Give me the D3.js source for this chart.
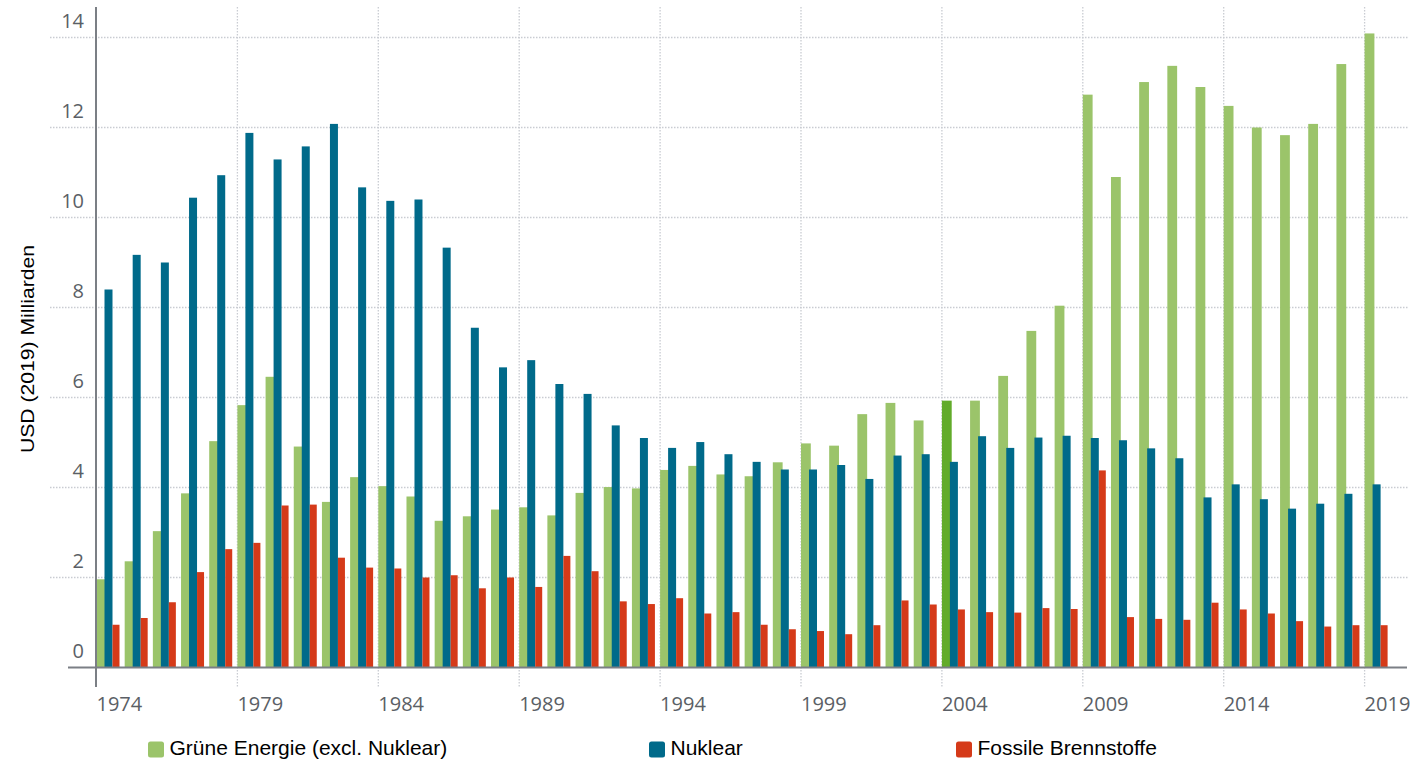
<!DOCTYPE html>
<html>
<head>
<meta charset="utf-8">
<script src="https://cdn.jsdelivr.net/npm/d3@7"></script>
<style>
  body { margin: 0; background: #fff; }
  svg { display: block; }
</style>
</head>
<body>
<svg id="chart" width="1413" height="759"></svg>
<script>
// chart data
var years = [1974, 1975, 1976, 1977, 1978, 1979, 1980, 1981, 1982, 1983,
             1984, 1985, 1986, 1987, 1988, 1989, 1990, 1991, 1992, 1993,
             1994, 1995, 1996, 1997, 1998, 1999, 2000, 2001, 2002, 2003,
             2004, 2005, 2006, 2007, 2008, 2009, 2010, 2011, 2012, 2013,
             2014, 2015, 2016, 2017, 2018, 2019];

var green = [1.96, 2.36, 3.03, 3.87, 5.03, 5.83, 6.46, 4.91, 3.68, 4.23,
             4.03, 3.80, 3.26, 3.36, 3.51, 3.56, 3.38, 3.88, 4.01, 3.98,
             4.39, 4.48, 4.29, 4.25, 4.56, 4.98, 4.93, 5.63, 5.88, 5.49,
             5.93, 5.93, 6.48, 7.48, 8.04, 12.73, 10.90, 13.01, 13.37, 12.90,
             12.48, 12.00, 11.83, 12.08, 13.41, 14.09];

var nuclear = [8.40, 9.17, 9.00, 10.44, 10.94, 11.88, 11.29, 11.58, 12.08, 10.67,
               10.37, 10.40, 9.33, 7.55, 6.67, 6.83, 6.30, 6.08, 5.38, 5.10,
               4.88, 5.01, 4.74, 4.57, 4.40, 4.40, 4.50, 4.19, 4.71, 4.74,
               4.57, 5.14, 4.88, 5.11, 5.15, 5.10, 5.05, 4.87, 4.65, 3.78,
               4.07, 3.74, 3.53, 3.64, 3.86, 4.07];

var fossil = [0.95, 1.10, 1.45, 2.12, 2.63, 2.77, 3.60, 3.62, 2.44, 2.22,
              2.20, 2.00, 2.05, 1.76, 2.00, 1.79, 2.48, 2.14, 1.47, 1.41,
              1.54, 1.20, 1.23, 0.95, 0.85, 0.81, 0.74, 0.94, 1.49, 1.40,
              1.29, 1.23, 1.22, 1.32, 1.30, 4.38, 1.12, 1.08, 1.06, 1.44,
              1.29, 1.20, 1.03, 0.91, 0.94, 0.94];

var yTicks = [0, 2, 4, 6, 8, 10, 12, 14];
var xTickYears = [1974, 1979, 1984, 1989, 1994, 1999, 2004, 2009, 2014, 2019];
var highlightYear = 2004;

var seriesNames = ["Grüne Energie (excl. Nuklear)", "Nuklear", "Fossile Brennstoffe"];
var seriesKeys = ["green", "nuclear", "fossil"];
var seriesColors = ["#9bc46a", "#006a8a", "#d53a19"];
var highlightColor = "#62ab2a";

var svg = d3.select("#chart");

var x = d3.scaleBand()
    .domain(years)
    .range([96, 96 + 46 * 28.18])
    .paddingInner(0)
    .paddingOuter(0);

// position of the three bars inside one year
var xs = d3.scaleBand()
    .domain(seriesKeys)
    .range([0.5, 24.5])
    .padding(0);

var y = d3.scaleLinear()
    .domain([0, 14])
    .range([667.5, 37.5]);

var fontTicks = "'Open Sans', 'DejaVu Sans', sans-serif";
var fontText = "'Liberation Sans', Arial, sans-serif";

// horizontal grid
svg.append("g")
    .selectAll("line")
    .data(yTicks.filter(function(d) { return d > 0; }))
    .enter().append("line")
    .attr("x1", 50)
    .attr("x2", 1408)
    .attr("y1", function(d) { return y(d); })
    .attr("y2", function(d) { return y(d); })
    .attr("stroke", "#c9ccd2")
    .attr("stroke-width", 1.3)
    .attr("stroke-dasharray", "1.5,1.5");

// vertical grid every 5 years
svg.append("g")
    .selectAll("line")
    .data(xTickYears.slice(1))
    .enter().append("line")
    .attr("x1", function(d) { return x(d) + 0.5; })
    .attr("x2", function(d) { return x(d) + 0.5; })
    .attr("y1", 7)
    .attr("y2", 687)
    .attr("stroke", "#c9ccd2")
    .attr("stroke-width", 1.3)
    .attr("stroke-dasharray", "1.5,1.5");

// bars
var rows = years.map(function(yr, i) {
    return {year: yr, green: green[i], nuclear: nuclear[i], fossil: fossil[i]};
});

var groups = svg.append("g")
    .selectAll("g")
    .data(rows)
    .enter().append("g")
    .attr("transform", function(d) { return "translate(" + x(d.year) + ",0)"; });

seriesKeys.forEach(function(key, k) {
    groups.append("rect")
        .attr("x", xs(key))
        .attr("width", key === "green" ? xs.bandwidth() + 1.8 : xs.bandwidth() - (key === "fossil" ? 1 : 0))
        .attr("y", function(d) { return y(d[key]); })
        .attr("height", function(d) { return y(0) - y(d[key]); })
        .attr("fill", function(d) {
            if (key === "green" && d.year === highlightYear) return highlightColor;
            return seriesColors[k];
        });
});

// axes lines
svg.append("line")
    .attr("x1", 68).attr("x2", 1407)
    .attr("y1", y(0)).attr("y2", y(0))
    .attr("stroke", "#7b7f85")
    .attr("stroke-width", 2);

svg.append("line")
    .attr("x1", 96).attr("x2", 96)
    .attr("y1", 7).attr("y2", 687)
    .attr("stroke", "#7b7f85")
    .attr("stroke-width", 2);

// y tick labels (sit above their grid line)
svg.append("g")
    .selectAll("text")
    .data(yTicks)
    .enter().append("text")
    .attr("x", 84)
    .attr("y", function(d) { return y(d) - 9.5; })
    .attr("text-anchor", "end")
    .attr("font-family", fontTicks)
    .attr("font-size", 20)
    .attr("fill", "#5b5f66")
    .text(function(d) { return d; });

// x tick labels
svg.append("g")
    .selectAll("text")
    .data(xTickYears)
    .enter().append("text")
    .attr("x", function(d) { return x(d) + 0.5; })
    .attr("y", 710.5)
    .attr("font-family", fontTicks)
    .attr("font-size", 20)
    .attr("fill", "#5b5f66")
    .text(function(d) { return d; });

// y axis title
svg.append("text")
    .attr("transform", "translate(33.5,349) rotate(-90)")
    .attr("text-anchor", "middle")
    .attr("font-family", fontText)
    .attr("font-size", 18)
    .attr("fill", "#000")
    .attr("textLength", 208)
    .attr("lengthAdjust", "spacingAndGlyphs")
    .text("USD (2019) Milliarden");

// legend
var legendX = [148, 649, 956];
var legend = svg.append("g")
    .selectAll("g")
    .data(seriesNames)
    .enter().append("g")
    .attr("transform", function(d, i) { return "translate(" + legendX[i] + ",741.5)"; });

legend.append("rect")
    .attr("width", 16)
    .attr("height", 16)
    .attr("rx", 2.5)
    .attr("fill", function(d, i) { return seriesColors[i]; });

legend.append("text")
    .attr("x", 21.5)
    .attr("y", 13)
    .attr("font-family", fontText)
    .attr("font-size", 21)
    .attr("fill", "#000")
    .text(function(d) { return d; });
</script>
</body>
</html>
